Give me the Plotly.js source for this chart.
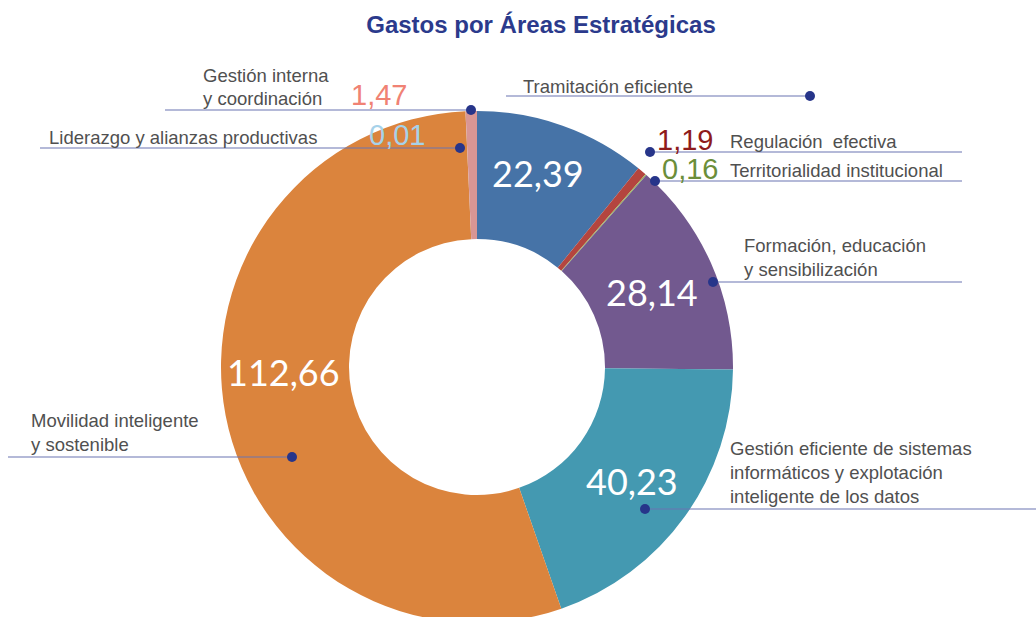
<!DOCTYPE html>
<html>
<head>
<meta charset="utf-8">
<script src="https://cdn.plot.ly/plotly-3.0.1.min.js"></script>
<style>
html,body{margin:0;padding:0;overflow:hidden;background:#fff;}
#chart{width:1036px;height:640px;}
</style>
</head>
<body>
<div id="chart"></div>
<script>
// ---- data ----
const categories = [
  "Tramitación eficiente",
  "Regulación  efectiva",
  "Territorialidad institucional",
  "Formación, educación y sensibilización",
  "Gestión eficiente de sistemas informáticos y explotación inteligente de los datos",
  "Movilidad inteligente y sostenible",
  "Liderazgo y alianzas productivas",
  "Gestión interna y coordinación"
];
const values = [22.39, 1.19, 0.16, 28.14, 40.23, 112.66, 0.01, 1.47];
const sliceColors = ["#4673a7", "#b4453f", "#9bb85c", "#72598f", "#4499b1", "#db843d", "#9cc8e0", "#d99694"];
const valueColors = ["#ffffff", "#8e1b1b", "#6b8e3a", "#ffffff", "#ffffff", "#ffffff", "#a6d2ea", "#f08274"];
const labelLines = [
  ["Tramitación eficiente"],
  ["Regulación  efectiva"],
  ["Territorialidad institucional"],
  ["Formación, educación", "y sensibilización"],
  ["Gestión eficiente de sistemas", "informáticos y explotación", "inteligente de los datos"],
  ["Movilidad inteligente", "y sostenible"],
  ["Liderazgo y alianzas productivas"],
  ["Gestión interna", "y coordinación"]
];
const title = "Gastos por Áreas Estratégicas";

// ---- layout helpers ----
const W = 1036, H = 640;
const px = x => x / W;
const py = y => 1 - y / H;
const fmt = v => v.toFixed(2).replace('.', ',');

// callout geometry per category (pixels); big = value drawn large inside the ring
const callouts = [
  {dot:[810,96],  line:[506,810],  textX:521, textY:[86],          val:[538,173], big:true},
  {dot:[650,152], line:[650,962],  textX:728, textY:[141],         val:[655,140], big:false},
  {dot:[655,181], line:[655,962],  textX:728, textY:[170],         val:[660,169], big:false},
  {dot:[713,282], line:[713,962],  textX:742, textY:[245,269],     val:[652,292], big:true},
  {dot:[645,509], line:[645,1036], textX:728, textY:[448,472,496], val:[632,481], big:true},
  {dot:[292,457], line:[8,292],    textX:29,  textY:[420,444],     val:[283,372], big:true},
  {dot:[460,148], line:[40,460],   textX:47,  textY:[137],         val:[367,135], big:false},
  {dot:[471,110], line:[165,471],  textX:201, textY:[75,99],       val:[349,95],  big:false}
];

const trace = {
  type: "pie",
  values: values,
  labels: categories,
  textinfo: "none",
  hole: 0.5,
  sort: false,
  direction: "clockwise",
  rotation: 0,
  marker: {colors: sliceColors, line: {width: 0}},
  domain: {x: [px(221), px(733)], y: [py(623), py(111)]},
  showlegend: false,
  hoverinfo: "label+value"
};

const shapes = [];
const annotations = [];
const lineColor = "#6a74b2";
const dotColor = "#27358a";
const labelFont = "'Liberation Sans', Arial, Helvetica, sans-serif";

callouts.forEach((c, i) => {
  const y = c.dot[1];
  shapes.push({type: "line", xref: "paper", yref: "paper",
    x0: px(c.line[0]), x1: px(c.line[1]), y0: py(y), y1: py(y),
    line: {color: lineColor, width: 1.2}});
  shapes.push({type: "circle", xref: "paper", yref: "paper",
    xsizemode: "pixel", ysizemode: "pixel",
    xanchor: px(c.dot[0]), yanchor: py(c.dot[1]),
    x0: -5, x1: 5, y0: -5, y1: 5,
    fillcolor: dotColor, line: {width: 0}});
  labelLines[i].forEach((t, k) => {
    annotations.push({xref: "paper", yref: "paper", x: px(c.textX), y: py(c.textY[k]),
      xanchor: "left", yanchor: "middle", showarrow: false, text: t,
      font: {family: labelFont, size: 18.5, color: "#505050"}});
  });
  if (c.big) {
    annotations.push({xref: "paper", yref: "paper", x: px(c.val[0]), y: py(c.val[1]),
      xanchor: "center", yanchor: "middle", showarrow: false, text: fmt(values[i]),
      font: {family: "Lato, 'Open Sans', sans-serif", size: 36, color: valueColors[i]}});
  } else {
    annotations.push({xref: "paper", yref: "paper", x: px(c.val[0]), y: py(c.val[1]),
      xanchor: "left", yanchor: "middle", showarrow: false, text: fmt(values[i]),
      font: {family: labelFont, size: 29, color: valueColors[i]}});
  }
});

const layout = {
  width: W, height: H,
  margin: {l: 0, r: 0, t: 0, b: 0},
  paper_bgcolor: "#ffffff",
  title: {text: "<b>" + title + "</b>", x: px(541), xanchor: "center", y: py(25), yanchor: "middle",
    font: {family: labelFont, size: 24, color: "#2b3a8c"}},
  shapes: shapes,
  annotations: annotations
};

Plotly.newPlot("chart", [trace], layout, {displayModeBar: false, staticPlot: true});
</script>
</body>
</html>
